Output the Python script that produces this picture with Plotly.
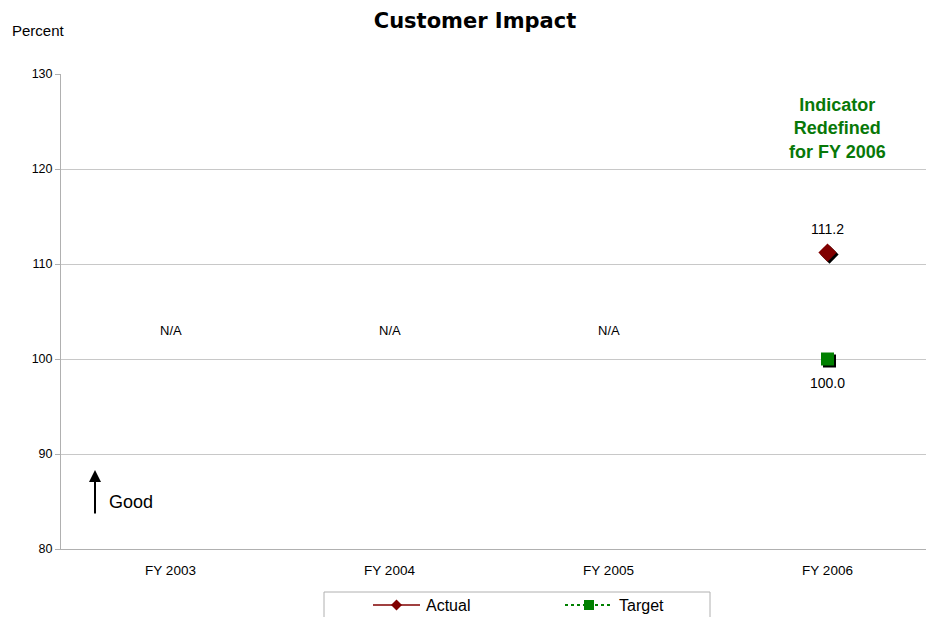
import plotly.graph_objects as go

categories = ["FY 2003", "FY 2004", "FY 2005", "FY 2006"]
actual = [None, None, None, 111.2]
target = [None, None, None, 100.0]
na_labels = ["N/A", "N/A", "N/A", ""]
y_ticks = [80, 90, 100, 110, 120, 130]

W, H = 926, 617
ML, MR, MT, MB = 61, 0, 74, 68
PW, PH = W - ML - MR, H - MT - MB
band = 219  # pixel width of one category band
x_range = [-0.5, -0.5 + PW / band]
y_range = [80, 130]
px_x = 1 / band
px_y = (y_range[1] - y_range[0]) / PH
shadow = 2  # drop-shadow offset in pixels

xi = list(range(len(categories)))
font = "Liberation Sans, Arial, sans-serif"
RED, GREEN, AXIS = "#800000", "#008000", "#b0b0b0"


def px_to_x(px):
    return x_range[0] + (px - ML) * px_x


def px_to_y(py):
    return y_range[0] + (MT + PH - py) * px_y


def paper_x(px):
    return (px - ML) / PW


def paper_y(py):
    return (MT + PH - py) / PH


fig = go.Figure()

# drop shadows, drawn on an overlay axis pair shifted down-right
fig.add_trace(go.Scatter(x=xi, y=actual, mode="markers", xaxis="x2", yaxis="y2",
                         marker=dict(symbol="diamond", size=14, color="black"),
                         showlegend=False, hoverinfo="skip"))
fig.add_trace(go.Scatter(x=xi, y=target, mode="markers", xaxis="x2", yaxis="y2",
                         marker=dict(symbol="square", size=13, color="black"),
                         showlegend=False, hoverinfo="skip"))

# the series themselves, on a top overlay with the true range
fig.add_trace(go.Scatter(x=xi, y=actual, name="Actual", mode="lines+markers",
                         xaxis="x3", yaxis="y3", showlegend=False,
                         line=dict(color=RED, width=1.5),
                         marker=dict(symbol="diamond", size=14, color=RED)))
fig.add_trace(go.Scatter(x=xi, y=target, name="Target", mode="lines+markers",
                         xaxis="x3", yaxis="y3", showlegend=False,
                         line=dict(color=GREEN, width=2, dash="dot"),
                         marker=dict(symbol="square", size=13, color=GREEN)))

annotations = []
for i, v in enumerate(actual):
    if v is not None:
        annotations.append(dict(x=i, y=v, xref="x", yref="y", text=f"{v:.1f}",
                                showarrow=False, yshift=24, font=dict(size=14)))
for i, v in enumerate(target):
    if v is not None:
        annotations.append(dict(x=i, y=v, xref="x", yref="y", text=f"{v:.1f}",
                                showarrow=False, yshift=-24, font=dict(size=14)))
for i, t in enumerate(na_labels):
    if t:
        annotations.append(dict(x=i, y=102.95, xref="x", yref="y", text=t,
                                showarrow=False, font=dict(size=13)))

annotations += [
    dict(x=px_to_x(837), y=px_to_y(128), xref="x", yref="y",
         text="<b>Indicator<br>Redefined<br>for FY 2006</b>",
         showarrow=False, font=dict(size=18, color="#087808"), align="center"),
    dict(x=paper_x(10), y=paper_y(31), xref="paper", yref="paper",
         text="Percent", showarrow=False, font=dict(size=15),
         xanchor="left", yanchor="middle"),
    dict(x=px_to_x(95), y=px_to_y(470), ax=px_to_x(95), ay=px_to_y(515),
         xref="x", yref="y", axref="x", ayref="y", text="", showarrow=True,
         arrowhead=2, arrowsize=1.2, arrowwidth=2, arrowcolor="black"),
    dict(x=px_to_x(107), y=px_to_y(502), xref="x", yref="y", text="Good",
         showarrow=False, xanchor="left", font=dict(size=18)),
]

shapes = [
    # category separators below the axis
    *[dict(type="line", x0=b, x1=b, y0=80, y1=80 - 5 * px_y, xref="x", yref="y",
           line=dict(color=AXIS, width=1)) for b in [0.5, 1.5, 2.5]],
]

# legend: frame, sample lines, symbols and names
LEG_Y = 605
shapes.append(dict(type="rect", xref="paper", yref="paper",
                   x0=paper_x(324), x1=paper_x(710), y0=paper_y(630), y1=paper_y(592),
                   line=dict(color=AXIS, width=1), fillcolor="white", layer="below"))
legend_items = [
    ("Actual", RED, dict(width=1.5), "diamond", 373, 420, 424),
    ("Target", GREEN, dict(width=2, dash="dot"), "square", 565, 613, 617),
]
for name, color, lstyle, sym, x0, x1, xt in legend_items:
    shapes.append(dict(type="line", xref="paper", yref="paper",
                       x0=paper_x(x0), x1=paper_x(x1), y0=paper_y(LEG_Y), y1=paper_y(LEG_Y),
                       line=dict(color=color, **lstyle)))
    cx = (x0 + x1) / 2
    if sym == "diamond":
        r = 5.5
        path = (f"M {paper_x(cx)},{paper_y(LEG_Y - r)} L {paper_x(cx + r)},{paper_y(LEG_Y)} "
                f"L {paper_x(cx)},{paper_y(LEG_Y + r)} L {paper_x(cx - r)},{paper_y(LEG_Y)} Z")
        shapes.append(dict(type="path", xref="paper", yref="paper", path=path,
                           fillcolor=color, line=dict(width=0)))
    else:
        r = 5
        shapes.append(dict(type="rect", xref="paper", yref="paper",
                           x0=paper_x(cx - r), x1=paper_x(cx + r),
                           y0=paper_y(LEG_Y + r), y1=paper_y(LEG_Y - r),
                           fillcolor=color, line=dict(width=0)))
    annotations.append(dict(x=paper_x(xt), y=paper_y(LEG_Y), xref="paper", yref="paper",
                            text=name, showarrow=False, xanchor="left", yanchor="middle",
                            font=dict(size=16)))

overlay = dict(visible=False, fixedrange=True)
fig.update_layout(
    width=W, height=H,
    margin=dict(l=ML, r=MR, t=MT, b=MB),
    paper_bgcolor="white", plot_bgcolor="white",
    font=dict(family=font, size=12, color="black"),
    title=dict(text="<b>Customer Impact</b>", x=475 / W, xanchor="center",
               y=1 - 21 / H, yanchor="middle",
               font=dict(family="DejaVu Sans, sans-serif", size=21, color="black")),
    xaxis=dict(range=x_range, tickvals=xi, ticktext=categories, showgrid=False,
               showline=True, linecolor=AXIS, linewidth=1, zeroline=False,
               ticks="outside", ticklen=9, tickcolor="rgba(0,0,0,0)",
               fixedrange=True, tickfont=dict(size=13.5), automargin=False),
    yaxis=dict(range=y_range, tickvals=y_ticks, showgrid=True, gridcolor="#c8c8c8",
               showline=True, linecolor=AXIS, linewidth=1, zeroline=False,
               ticks="outside", ticklen=5, tickcolor=AXIS, tickfont=dict(size=12.5),
               fixedrange=True, automargin=False),
    xaxis2=dict(range=[x_range[0] - shadow * px_x, x_range[1] - shadow * px_x],
                overlaying="x", **overlay),
    yaxis2=dict(range=[y_range[0] + shadow * px_y, y_range[1] + shadow * px_y],
                overlaying="y", **overlay),
    xaxis3=dict(range=x_range, overlaying="x", **overlay),
    yaxis3=dict(range=y_range, overlaying="y", **overlay),
    annotations=annotations,
    shapes=shapes,
    showlegend=False,
)

fig.write_html("out.html")
